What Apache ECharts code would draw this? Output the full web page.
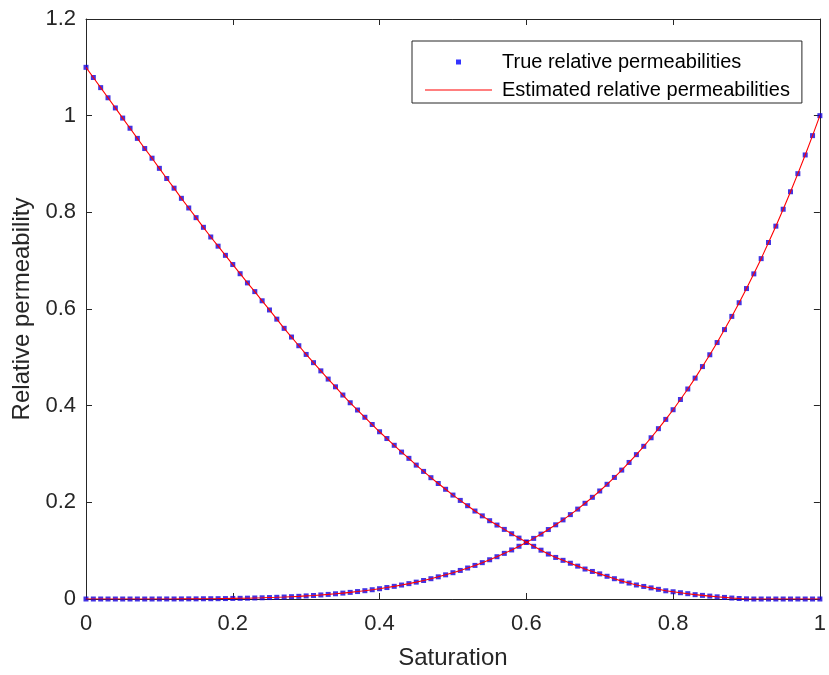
<!DOCTYPE html>
<html>
<head>
<meta charset="utf-8">
<script src="https://cdn.jsdelivr.net/npm/echarts@6/dist/echarts.min.js"></script>
<style>
  html, body { margin: 0; padding: 0; background: #ffffff; }
  #chart { width: 829px; height: 675px; }
</style>
</head>
<body>
<div id="chart"></div>
<script>
// Water saturation samples
const saturation = [
  0.00, 0.01, 0.02, 0.03, 0.04, 0.05, 0.06, 0.07, 0.08, 0.09,
  0.10, 0.11, 0.12, 0.13, 0.14, 0.15, 0.16, 0.17, 0.18, 0.19,
  0.20, 0.21, 0.22, 0.23, 0.24, 0.25, 0.26, 0.27, 0.28, 0.29,
  0.30, 0.31, 0.32, 0.33, 0.34, 0.35, 0.36, 0.37, 0.38, 0.39,
  0.40, 0.41, 0.42, 0.43, 0.44, 0.45, 0.46, 0.47, 0.48, 0.49,
  0.50, 0.51, 0.52, 0.53, 0.54, 0.55, 0.56, 0.57, 0.58, 0.59,
  0.60, 0.61, 0.62, 0.63, 0.64, 0.65, 0.66, 0.67, 0.68, 0.69,
  0.70, 0.71, 0.72, 0.73, 0.74, 0.75, 0.76, 0.77, 0.78, 0.79,
  0.80, 0.81, 0.82, 0.83, 0.84, 0.85, 0.86, 0.87, 0.88, 0.89,
  0.90, 0.91, 0.92, 0.93, 0.94, 0.95, 0.96, 0.97, 0.98, 0.99,
  1.00
];

// Oil relative permeability (decreasing branch)
const kroTrue = [
  1.100, 1.079, 1.058, 1.037, 1.016, 0.995, 0.974, 0.953, 0.932, 0.912,
  0.891, 0.870, 0.850, 0.829, 0.809, 0.789, 0.769, 0.749, 0.730, 0.711,
  0.692, 0.673, 0.654, 0.636, 0.617, 0.598, 0.579, 0.560, 0.542, 0.524,
  0.506, 0.489, 0.472, 0.455, 0.439, 0.422, 0.406, 0.391, 0.376, 0.361,
  0.346, 0.332, 0.318, 0.304, 0.291, 0.277, 0.264, 0.251, 0.239, 0.227,
  0.215, 0.204, 0.193, 0.182, 0.172, 0.162, 0.153, 0.144, 0.135, 0.126,
  0.118, 0.109, 0.101, 0.093, 0.086, 0.080, 0.074, 0.068, 0.062, 0.057,
  0.052, 0.047, 0.042, 0.037, 0.033, 0.029, 0.026, 0.023, 0.020, 0.017,
  0.015, 0.013, 0.011, 0.009, 0.0075, 0.006, 0.0045, 0.0033, 0.002, 0.001,
  0.0003, 0, 0, 0, 0, 0, 0, 0, 0, 0,
  0
];

// Water relative permeability (increasing branch)
const krwTrue = [
  0, 0, 0, 0, 0, 0, 0, 0, 0, 0,
  0.0001, 0.0001, 0.0001, 0.0002, 0.0003, 0.0003, 0.0005, 0.0006, 0.0007, 0.0009,
  0.0012, 0.0014, 0.0017, 0.0021, 0.0025, 0.0030, 0.0035, 0.0041, 0.0048, 0.0055,
  0.0064, 0.0073, 0.0084, 0.0095, 0.0108, 0.0122, 0.0137, 0.0154, 0.0172, 0.0192,
  0.0213, 0.0237, 0.0262, 0.0289, 0.0318, 0.0349, 0.0383, 0.0420, 0.0459, 0.0500,
  0.0544, 0.0591, 0.0641, 0.0695, 0.0752, 0.0812, 0.0875, 0.0944, 0.1015, 0.1091,
  0.1170, 0.1254, 0.1343, 0.1437, 0.1535, 0.1637, 0.1746, 0.1860, 0.1980, 0.2104,
  0.2235, 0.2373, 0.2515, 0.2667, 0.2825, 0.2987, 0.3159, 0.3336, 0.3524, 0.3716,
  0.3916, 0.4128, 0.4345, 0.4570, 0.4809, 0.5053, 0.5306, 0.5574, 0.5847, 0.6130,
  0.6423, 0.6727, 0.7042, 0.7376, 0.7714, 0.8064, 0.8426, 0.8800, 0.9187, 0.9587,
  1.0000
];

// Fitted curves coincide with the sampled ones
const kroEstimated = kroTrue.slice();
const krwEstimated = krwTrue.slice();

const xTicks = { min: 0, max: 1, step: 0.2 };
const yTicks = { min: 0, max: 1.2, step: 0.2 };

const trueName = 'True relative permeabilities';
const estName = 'Estimated relative permeabilities';

const pairs = (xs, ys) => xs.map((x, i) => [x, ys[i]]);

const ink = '#262626';
const markerBlue = '#1400dc';
const fitRed = '#ff0000';
const font = '"Liberation Sans", Arial, Helvetica, sans-serif';

const chart = echarts.init(document.getElementById('chart'), null, { renderer: 'canvas' });

const baseAxis = {
  type: 'value',
  splitLine: { show: false },
  axisLine: { show: true, onZero: false, lineStyle: { color: ink, width: 1 } },
  axisTick: { show: true, inside: true, length: 6, lineStyle: { color: ink, width: 1 } }
};

chart.setOption({
  animation: false,
  backgroundColor: '#ffffff',
  textStyle: { fontFamily: font },
  grid: { left: 86, right: 3, top: 19, bottom: 73, containLabel: false },
  legend: {
    orient: 'vertical',
    left: 412,
    top: 41,
    padding: [11, 12, 3, 13],
    itemGap: 8,
    itemWidth: 67,
    itemHeight: 5,
    selectedMode: false,
    borderColor: ink,
    borderWidth: 1,
    backgroundColor: '#ffffff',
    textStyle: { fontSize: 20, color: '#000000', fontFamily: font, padding: [0, 0, 0, 5] },
    data: [
      // small square marker
      { name: trueName, icon: 'path://M0,0L1,0L1,1L0,1Z', itemStyle: { color: '#0000ff' } },
      // thin horizontal stroke
      { name: estName, icon: 'path://M0,0L67,0L67,1.2L0,1.2Z', itemStyle: { color: fitRed } }
    ]
  },
  xAxis: [
    Object.assign({}, baseAxis, {
      position: 'bottom',
      min: xTicks.min, max: xTicks.max, interval: xTicks.step,
      axisLabel: { show: true, margin: 14, fontSize: 22, color: ink, fontFamily: font },
      name: 'Saturation',
      nameLocation: 'middle',
      nameGap: 47,
      nameTextStyle: { fontSize: 24, color: ink, fontFamily: font }
    }),
    Object.assign({}, baseAxis, {
      position: 'top',
      min: xTicks.min, max: xTicks.max, interval: xTicks.step,
      axisLabel: { show: false }
    })
  ],
  yAxis: [
    Object.assign({}, baseAxis, {
      position: 'left',
      min: yTicks.min, max: yTicks.max, interval: yTicks.step,
      axisLabel: { show: true, margin: 10, fontSize: 22, color: ink, fontFamily: font },
      name: 'Relative permeability',
      nameLocation: 'middle',
      nameGap: 47,
      nameTextStyle: { fontSize: 24, color: ink, fontFamily: font }
    }),
    Object.assign({}, baseAxis, {
      position: 'right',
      min: yTicks.min, max: yTicks.max, interval: yTicks.step,
      axisLabel: { show: false }
    })
  ],
  series: [
    {
      name: trueName, type: 'scatter', data: pairs(saturation, kroTrue),
      symbol: 'rect', symbolSize: 5, clip: false, z: 2,
      itemStyle: { color: markerBlue }
    },
    {
      name: trueName, type: 'scatter', data: pairs(saturation, krwTrue),
      symbol: 'rect', symbolSize: 5, clip: false, z: 2,
      itemStyle: { color: markerBlue }
    },
    {
      name: estName, type: 'line', data: pairs(saturation, kroEstimated),
      symbol: 'none', showSymbol: false, z: 3,
      lineStyle: { color: fitRed, width: 1.1 }, itemStyle: { color: fitRed }
    },
    {
      name: estName, type: 'line', data: pairs(saturation, krwEstimated),
      symbol: 'none', showSymbol: false, z: 3,
      lineStyle: { color: fitRed, width: 1.1 }, itemStyle: { color: fitRed }
    }
  ]
});
</script>
</body>
</html>
